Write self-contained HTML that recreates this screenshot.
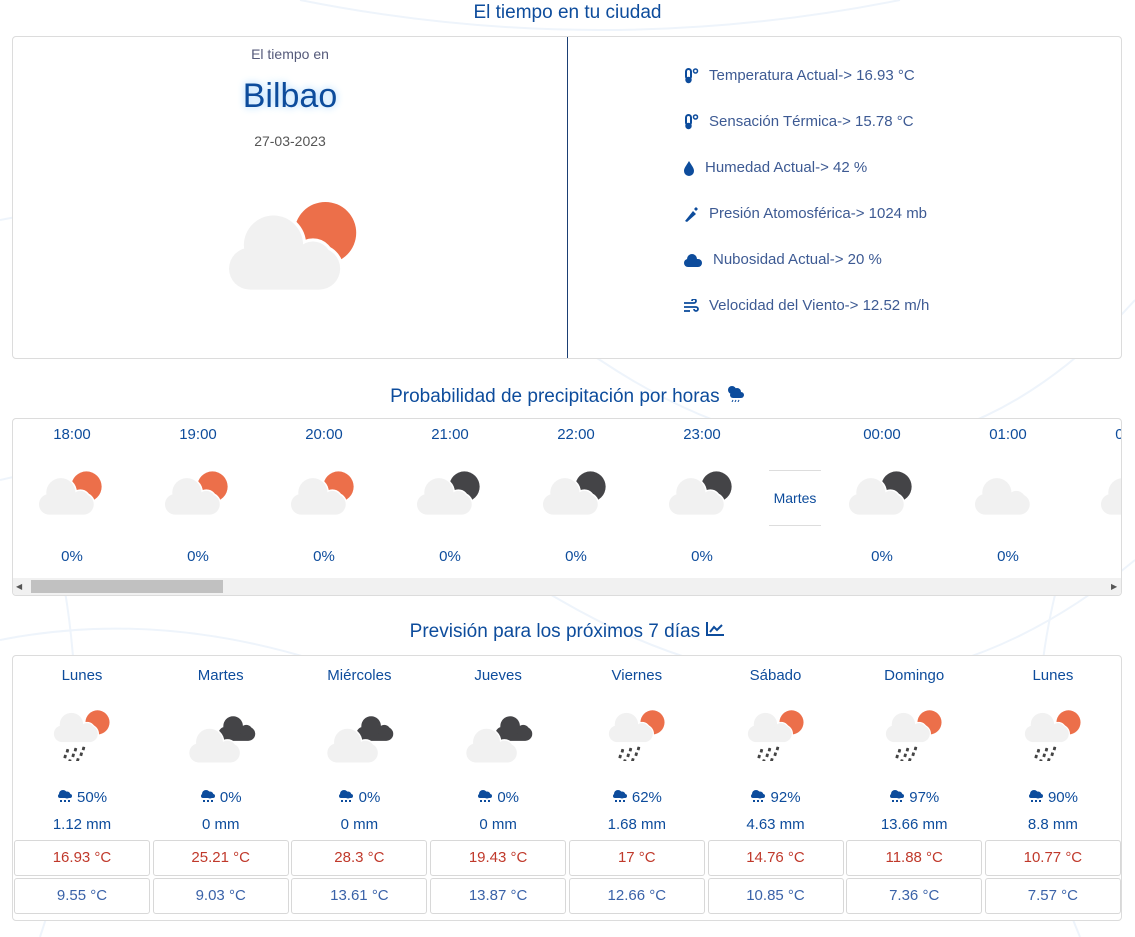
<!DOCTYPE html>
<html><head><meta charset="utf-8">
<style>
*{box-sizing:border-box;margin:0;padding:0}
body{width:1135px;height:937px;overflow:hidden;background:#fff;font-family:"Liberation Sans",sans-serif;position:relative}
.bg{position:absolute;left:0;top:0;width:1135px;height:937px}
.title{position:absolute;left:0;width:1135px;text-align:center;color:#0d4c9c;font-size:19px}
.card{position:absolute;background:#fff;border:1px solid #dcdcdc;border-radius:4px}
.abs{position:absolute}
.info{position:absolute;left:683px;color:#3d5a93;font-size:15px;display:flex;align-items:center}
.info svg{margin-right:10px}
.hr{position:absolute;width:126px;text-align:center;color:#0d4c9c}
.day{position:absolute;width:138px;text-align:center;color:#0d4c9c;font-size:15px}
.tbox{position:absolute;height:36px;border:1px solid #d8d8d8;border-radius:3px;text-align:center;line-height:34px;font-size:15px}
</style></head><body>
<svg class="bg" viewBox="0 0 1135 937">
<g fill="none" stroke="#eef4fb" stroke-width="2">
<path d="M0 220 Q300 160 600 360 T1135 300"/><path d="M0 480 Q250 420 560 600 T1135 560"/>
<path d="M40 937 Q120 700 20 420"/><path d="M1080 937 Q980 700 1120 420"/>
<path d="M300 0 Q600 60 900 0"/><path d="M0 640 Q200 600 420 700"/>
</g></svg>

<div class="title" style="top:2px">El tiempo en tu ciudad</div>

<div class="card" style="left:12px;top:36px;width:1110px;height:323px">
  <div class="abs" style="left:554px;top:0;width:1px;height:321px;background:#1b3f74"></div>
  <div class="abs" style="left:0;width:554px;top:9px;text-align:center;color:#555a7a;font-size:14px">El tiempo en</div>
  <div class="abs" style="left:0;width:554px;top:40px;text-align:center;color:#0d4c9c;font-size:34px;text-shadow:0 0 8px #9cd2ff">Bilbao</div>
  <div class="abs" style="left:0;width:554px;top:96px;text-align:center;color:#555;font-size:14px">27-03-2023</div>
  <div class="abs" id="mainicon" style="left:208px;top:160px"></div>
</div>

<div id="infos"></div>

<div class="title" style="top:384px">Probabilidad de precipitación por horas <svg width="20" height="18" viewBox="0 0 20 18"><circle cx="7" cy="6" r="4" fill="#0d4c9c"/><rect x="5" y="8" width="14" height="6" rx="3" fill="#0d4c9c"/><circle cx="12" cy="8" r="4" fill="#0d4c9c"/><path d="M8 16l-1 2M11 16l-1 2M14 16l-1 2" stroke="#0d4c9c"/></svg></div>
<div class="card" style="left:12px;top:418px;width:1110px;height:178px;overflow:hidden">
  <div id="hours"></div>
  <div class="abs" style="left:0;top:159px;width:1110px;height:17px;background:#f1f1f1"></div>
  <div class="abs" style="left:18px;top:161px;width:192px;height:13px;background:#c1c1c1"></div>
  <div class="abs" style="left:3px;top:163px;font-size:8px;color:#555">◀</div>
  <div class="abs" style="left:1098px;top:163px;font-size:8px;color:#555">▶</div>
</div>

<div class="title" style="top:621px">Previsión para los próximos 7 días <svg width="20" height="16" viewBox="0 0 20 16" fill="none" stroke="#0d4c9c" stroke-width="2"><path d="M2 1V14H19"/><path d="M5 11L9 6L12 9L17 4"/></svg></div>
<div class="card" style="left:12px;top:655px;width:1110px;height:266px">
  <div id="days"></div>
</div>

<script>
const infoLabels=["Temperatura Actual-> 16.93 °C","Sensación Térmica-> 15.78 °C","Humedad Actual-> 42 %","Presión Atomosférica-> 1024 mb","Nubosidad Actual-> 20 %","Velocidad del Viento-> 12.52 m/h"];
const hourLabels=["18:00","19:00","20:00","21:00","22:00","23:00","Martes","00:00","01:00","02:00"];
const hourIcons=["sun","sun","sun","moon","moon","moon","","moon","cloud","cloud"];
const hourPrecip=["0%","0%","0%","0%","0%","0%","","0%","0%","0%"];
const dayNames=["Lunes","Martes","Miércoles","Jueves","Viernes","Sábado","Domingo","Lunes"];
const dayIcons=["rain","night","night","night","rain","rain","rain","rain"];
const dayPrecip=[50,0,0,0,62,92,97,90];
const dayMm=[1.12,0,0,0,1.68,4.63,13.66,8.8];
const dayMax=[16.93,25.21,28.3,19.43,17,14.76,11.88,10.77];
const dayMin=[9.55,9.03,13.61,13.87,12.66,10.85,7.36,7.57];

function cloud(x,y,s,fill){
  return `<g transform="translate(${x},${y}) scale(${s})" fill="${fill}"><rect x="0" y="30" width="90" height="34" rx="17"/><circle cx="36" cy="28" r="24"/><circle cx="68" cy="40" r="15"/></g>`;
}
function icon(type,w){
  let body='';
  if(type==='sun'||type==='moon'){
    const c=type==='sun'?'#ec6f4a':'#444447';
    body=`<circle cx="78" cy="26" r="25" fill="${c}"/>`+`<g stroke="#fff" stroke-width="5">${cloud(0,8,1,'#fff')}</g>`+cloud(0,8,1,'#f1f1f1');
  }else if(type==='cloud'){
    body=cloud(0,8,1,'#f1f1f1');
  }else if(type==='rain'){
    body=`<circle cx="78" cy="22" r="21" fill="#ec6f4a"/>`+`<g stroke="#fff" stroke-width="5">${cloud(2,2,0.85,'#fff')}</g>`+cloud(2,2,0.85,'#f1f1f1');
    body+=`<g fill="#444">`+[[24,68],[38,66],[52,64],[20,78],[34,76],[48,74],[28,86],[42,84]].map(p=>`<rect x="${p[0]}" y="${p[1]}" width="5" height="6" rx="1" transform="rotate(15 ${p[0]} ${p[1]})"/>`).join('')+`</g>`;
  }else if(type==='night'){
    body=`<g transform="translate(44,4) scale(0.62)">${cloud(0,0,1,'#444447')}</g>`+`<g stroke="#fff" stroke-width="5">${cloud(0,22,0.85,'#fff')}</g>`+cloud(0,22,0.85,'#f1f1f1');
  }
  return `<svg width="${w}" height="${w*0.8}" viewBox="-3 -3 108 92">${body}</svg>`;
}
const rainGlyph='<svg width="16" height="14" viewBox="0 0 16 14" style="vertical-align:-1px"><circle cx="6" cy="5" r="4" fill="#0d4c9c"/><circle cx="10" cy="6" r="3.5" fill="#0d4c9c"/><rect x="1" y="5" width="14" height="4" rx="2" fill="#0d4c9c"/><rect x="3" y="11" width="2" height="2" fill="#0d4c9c"/><rect x="7" y="11" width="2" height="2" fill="#0d4c9c"/><rect x="11" y="11" width="2" height="2" fill="#0d4c9c"/></svg>';
document.getElementById('mainicon').innerHTML=icon('sun',142);

const infoIcons=[
 '<svg width="16" height="16" viewBox="0 0 16 16"><rect x="3" y="1" width="5" height="10" rx="2.5" fill="none" stroke="#0d4c9c" stroke-width="2"/><circle cx="5.5" cy="12" r="3.2" fill="#0d4c9c"/><circle cx="12.5" cy="3" r="2" fill="none" stroke="#0d4c9c" stroke-width="1.5"/></svg>',
 '<svg width="16" height="16" viewBox="0 0 16 16"><rect x="3" y="1" width="5" height="10" rx="2.5" fill="none" stroke="#0d4c9c" stroke-width="2"/><circle cx="5.5" cy="12" r="3.2" fill="#0d4c9c"/><circle cx="12.5" cy="3" r="2" fill="none" stroke="#0d4c9c" stroke-width="1.5"/></svg>',
 '<svg width="12" height="16" viewBox="0 0 12 16"><path d="M6 1 C3 6 1 8 1 11 a5 5 0 0 0 10 0 C11 8 9 6 6 1z" fill="#0d4c9c"/></svg>',
 '<svg width="16" height="16" viewBox="0 0 16 16"><path d="M2 15 L10 5 L13 8 L4 16z M11 3 L13 1 L15 3 L13 5z" fill="#0d4c9c"/></svg>',
 '<svg width="20" height="14" viewBox="0 0 20 14"><rect x="1" y="6" width="18" height="8" rx="4" fill="#0d4c9c"/><circle cx="9" cy="6" r="5" fill="#0d4c9c"/></svg>',
 '<svg width="16" height="14" viewBox="0 0 16 14" fill="none" stroke="#0d4c9c" stroke-width="1.8"><path d="M1 4 H11 a2 2 0 1 0 -2 -2"/><path d="M1 8 H13 a2 2 0 1 1 -2 2"/><path d="M1 12 H7"/></svg>'];
const infos=document.getElementById('infos');
infoLabels.forEach((t,i)=>{
  const d=document.createElement('div');d.className='info';d.style.top=(67+i*46)+'px';
  
  
  d.innerHTML=infoIcons[i]+'<span>'+t+'</span>';infos.appendChild(d);
});

const hours=document.getElementById('hours');
let hx=-4;
hourLabels.forEach((h,i)=>{
  const d=document.createElement('div');
  if(hourIcons[i]===''){
    d.className='hr';d.style.left=(hx+126+4)+'px';d.style.width='52px';d.style.top='51px';
    
    
    d.innerHTML='<div style="border-top:1px solid #ddd;border-bottom:1px solid #ddd;height:56px;line-height:54px;font-size:14px">'+h+'</div>';
    hours.appendChild(d);hx+=180;return;
  }
  d.className='hr';d.style.left=hx+'px';d.style.top='0px';d.style.height='150px';
  
  
  d.innerHTML=`<div style="position:absolute;top:7px;width:126px;font-size:15px">${h}</div><div style="position:absolute;top:50px;left:26px">${icon(hourIcons[i],70)}</div><div style="position:absolute;top:129px;width:126px;font-size:15px">${hourPrecip[i]}</div>`;
  hours.appendChild(d);
  if(i<hourLabels.length-1&&hourIcons[i+1]!=='')hx+=126;
});

const days=document.getElementById('days');
dayNames.forEach((n,i)=>{
  const x=i*138.7;
  const night=dayIcons[i]==='night';
  const d=document.createElement('div');d.className='day';d.style.left=x+'px';d.style.top='0';d.style.height='180px';
  
  
  d.innerHTML=`<div style="position:absolute;top:11px;width:138px">${n}</div><div style="position:absolute;top:${night?54:52}px;left:${night?33:36}px">${icon(dayIcons[i],night?76:66)}</div><div style="position:absolute;top:133px;width:138px">${rainGlyph} ${dayPrecip[i]}%</div><div style="position:absolute;top:160px;width:138px">${dayMm[i]} mm</div>`;
  days.appendChild(d);
  const mx=document.createElement('div');mx.className='tbox';
  
  
  mx.style.left=(x+1)+'px';mx.style.top='184px';mx.style.width='136px';mx.style.color='#c0392b';mx.textContent=dayMax[i]+' °C';days.appendChild(mx);
  const mn=document.createElement('div');mn.className='tbox';
  
  
  mn.style.left=(x+1)+'px';mn.style.top='222px';mn.style.width='136px';mn.style.color='#3a62a8';mn.textContent=dayMin[i]+' °C';days.appendChild(mn);
});
</script>
</body></html>
